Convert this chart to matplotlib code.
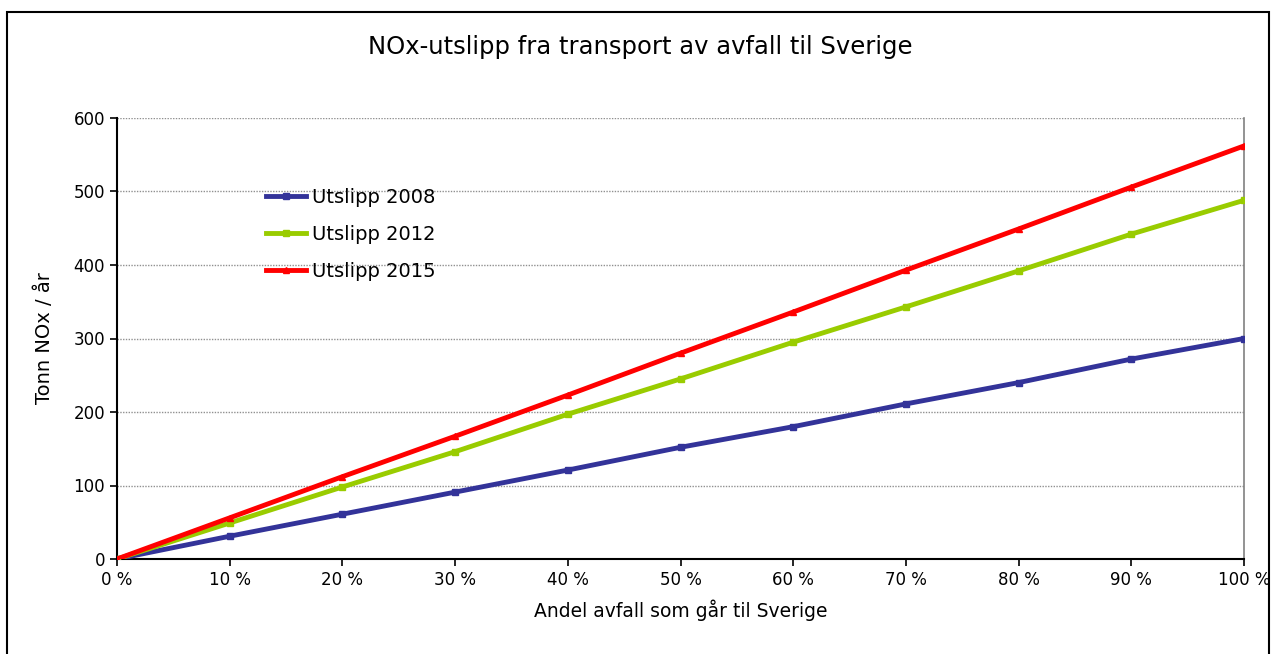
import numpy as np
import matplotlib.pyplot as plt
from matplotlib.patches import Rectangle

# andel avfall til Sverige (%)
andel = [0, 10, 20, 30, 40, 50, 60, 70, 80, 90, 100]
utslipp_2008 = [0, 31, 61, 91, 121, 152, 180, 211, 240, 272, 300]
utslipp_2012 = [0, 49, 98, 146, 197, 245, 295, 343, 392, 442, 488]
utslipp_2015 = [0, 56, 112, 167, 223, 280, 336, 393, 449, 506, 562]

fig = plt.figure(figsize=(12.72, 6.54), dpi=100)
ax = fig.add_axes([117/1272, 1 - 559/654, (1244-117)/1272, (559-118)/654])

ax.plot(andel, utslipp_2008, color="#333399", lw=3.5, marker="s", ms=4, label="Utslipp 2008", zorder=3)
ax.plot(andel, utslipp_2012, color="#99CC00", lw=3.5, marker="s", ms=4, label="Utslipp 2012", zorder=3)
ax.plot(andel, utslipp_2015, color="#FF0000", lw=3.5, marker="^", ms=5, label="Utslipp 2015", zorder=4)

ax.set_xlim(0, 100)
ax.set_ylim(0, 600)
ax.set_xticks(andel)
ax.set_xticklabels(["{} %".format(a) for a in andel])
ax.set_yticks(range(0, 601, 100))
ax.tick_params(labelsize=12, direction="out", length=5, width=1.2, colors="black")
ax.grid(axis="y", color="#909090", linestyle=(0, (1, 1)), lw=1)
ax.set_axisbelow(True)

ax.spines["top"].set_visible(False)
ax.spines["right"].set_color("#808080")
ax.spines["right"].set_linewidth(1.2)
ax.spines["left"].set_linewidth(1.5)
ax.spines["bottom"].set_linewidth(1.5)

ax.set_xlabel("Andel avfall som går til Sverige", fontsize=13.5, labelpad=8)
ax.set_ylabel("Tonn NOx / år", fontsize=14, labelpad=14)
fig.text(640/1272, 1 - 47/654, "NOx-utslipp fra transport av avfall til Sverige",
         ha="center", va="center", fontsize=17.5)

ax.legend(loc="upper left", bbox_to_anchor=(0.117, 0.882), frameon=False, fontsize=14,
          handlelength=2.05, labelspacing=0.93, handletextpad=0.3)

# ramme rundt hele diagrammet
fig.patches.append(Rectangle((7/1272, -0.05), (1269-7)/1272, 1.05 - 12/654,
                             transform=fig.transFigure, fill=False, ec="black", lw=1.5))

fig.savefig("out.png", dpi=100)
